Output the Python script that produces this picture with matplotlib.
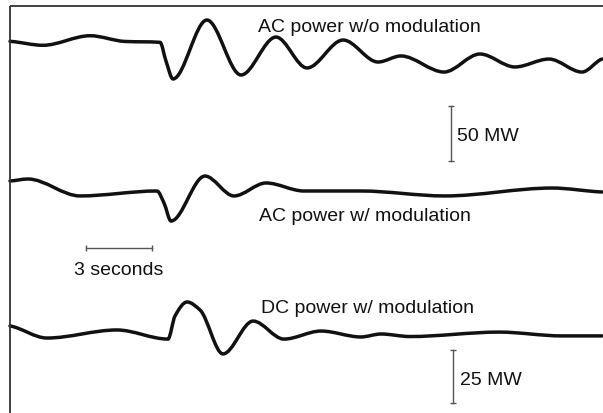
import numpy as np
import matplotlib
matplotlib.use("Agg")
import matplotlib.pyplot as plt
from matplotlib.path import Path
from matplotlib.patches import PathPatch

# ---------------- data (time in seconds, deviation in MW) ----------------
t_ac_nomod = [0.00, 1.50, 3.64, 5.23, 6.82, 7.09, 7.41, 8.95, 10.50, 12.09, 13.50,
              15.14, 16.73, 17.77, 19.73, 21.36, 22.95, 24.50, 26.00, 26.91]
p_ac_nomod = [0.6, -3.0, 5.7, 0.5, -0.3, -17.3, -33.6, 20.0, -30.0, 4.5, -23.6,
              1.8, -18.2, -12.7, -27.3, -10.9, -22.7, -15.5, -27.3, -15.5]

t_ac_mod = [0.00, 0.82, 3.18, 6.68, 7.00, 7.32, 8.86, 10.18, 11.64, 13.36, 15.95,
            19.77, 24.64, 26.91]
p_ac_mod = [9.1, 10.9, -4.5, 0.0, -10.9, -27.3, 13.6, -4.5, 7.3, 0.0, 0.0,
            -4.5, 2.7, -0.9]

t_dc_mod = [0.00, 1.68, 4.86, 7.18, 7.50, 8.05, 8.64, 9.68, 11.05, 12.45, 14.14, 15.95,
            16.86, 18.18, 22.23, 25.09, 26.91]
p_dc_mod = [3.8, -1.9, 1.9, -2.4, 8.5, 15.1, 11.3, -9.4, 6.1, -2.4, 1.4, -1.4,
            0.0, -1.2, 0.9, -0.9, -0.9]

labels = ["AC power w/o modulation", "AC power w/ modulation", "DC power w/ modulation"]
time_bar_s = 3
mw_bar_ac = 50
mw_bar_dc = 25

# ---------------- layout ----------------
W, H = 603, 414
X0 = 10.0          # pixel of t = 0
PX_PER_S = 22.0    # horizontal scale
FONT = ["Liberation Sans", "DejaVu Sans"]
INK = "#111111"
GREY = "#555555"

fig = plt.figure(figsize=(W / 100, H / 100), dpi=100)
ax = fig.add_axes([0, 0, 1, 1])
ax.set_xlim(-X0 / PX_PER_S, (W - X0) / PX_PER_S)
ax.set_ylim(H, 0)
ax.axis("off")


def tx(px):
    return (px - X0) / PX_PER_S


def pchip_slopes(x, y):
    h = np.diff(x)
    d = np.diff(y) / h
    n = len(x)
    m = np.zeros(n)
    for i in range(1, n - 1):
        if d[i - 1] * d[i] <= 0:
            m[i] = 0.0
        else:
            w1 = 2 * h[i] + h[i - 1]
            w2 = h[i] + 2 * h[i - 1]
            m[i] = (w1 + w2) / (w1 / d[i - 1] + w2 / d[i])
    m[0] = d[0] * 0.5
    m[-1] = d[-1] * 0.5
    return m


def smooth_path(xs, ys):
    x = np.asarray(xs, float)
    y = np.asarray(ys, float)
    m = pchip_slopes(x, y)
    verts = [(x[0], y[0])]
    codes = [Path.MOVETO]
    for i in range(len(x) - 1):
        h = x[i + 1] - x[i]
        verts += [(x[i] + h / 3, y[i] + m[i] * h / 3),
                  (x[i + 1] - h / 3, y[i + 1] - m[i + 1] * h / 3),
                  (x[i + 1], y[i + 1])]
        codes += [Path.CURVE4] * 3
    return Path(verts, codes)


traces = [
    (t_ac_nomod, p_ac_nomod, 43.0, 55.0 / mw_bar_ac),
    (t_ac_mod, p_ac_mod, 192.0, 55.0 / mw_bar_ac),
    (t_dc_mod, p_dc_mod, 335.0, 53.0 / mw_bar_dc),
]
for t, p, base, scale in traces:
    y = base - np.asarray(p) * scale
    patch = PathPatch(smooth_path(t, y), fill=False, edgecolor=INK, lw=2.5,
                      capstyle="round", joinstyle="round", transform=ax.transData)
    ax.add_patch(patch)

# frame (top and left)
ax.plot([tx(9.5), tx(W + 5)], [7, 7], color="#333333", lw=1.3, solid_capstyle="butt")
ax.plot([tx(9.5), tx(9.5)], [7, H + 5], color="#333333", lw=1.3, solid_capstyle="butt")

# trace labels
ax.text(tx(258), 32, labels[0], fontsize=14, family=FONT, color=INK, va="baseline", ha="left")
ax.text(tx(259), 221, labels[1], fontsize=14, family=FONT, color=INK, va="baseline", ha="left")
ax.text(tx(261), 313, labels[2], fontsize=14, family=FONT, color=INK, va="baseline", ha="left")

# time scale bar
t0 = tx(86)
ax.plot([t0, t0 + time_bar_s], [249, 249], color=GREY, lw=1.0)
ax.plot([t0, t0 + time_bar_s], [249, 249], ls="none", marker="|", ms=4, color=GREY, mew=1.0)
ax.text(t0 + time_bar_s / 2, 275, f"{time_bar_s} seconds", fontsize=14, family=FONT,
        color=INK, va="baseline", ha="center")

# 50 MW bar
xb = tx(451)
ax.plot([xb, xb], [107, 162], color=GREY, lw=1.0)
ax.plot([xb, xb], [107, 162], ls="none", marker="_", ms=5, color=GREY, mew=1.0)
ax.text(tx(457), 141.5, f"{mw_bar_ac} MW", fontsize=14, family=FONT, color=INK,
        va="baseline", ha="left")

# 25 MW bar
xb = tx(453)
ax.plot([xb, xb], [351, 404], color=GREY, lw=1.0)
ax.plot([xb, xb], [351, 404], ls="none", marker="_", ms=5, color=GREY, mew=1.0)
ax.text(tx(460), 385, f"{mw_bar_dc} MW", fontsize=14, family=FONT, color=INK,
        va="baseline", ha="left")

fig.savefig("out.png", dpi=100)
